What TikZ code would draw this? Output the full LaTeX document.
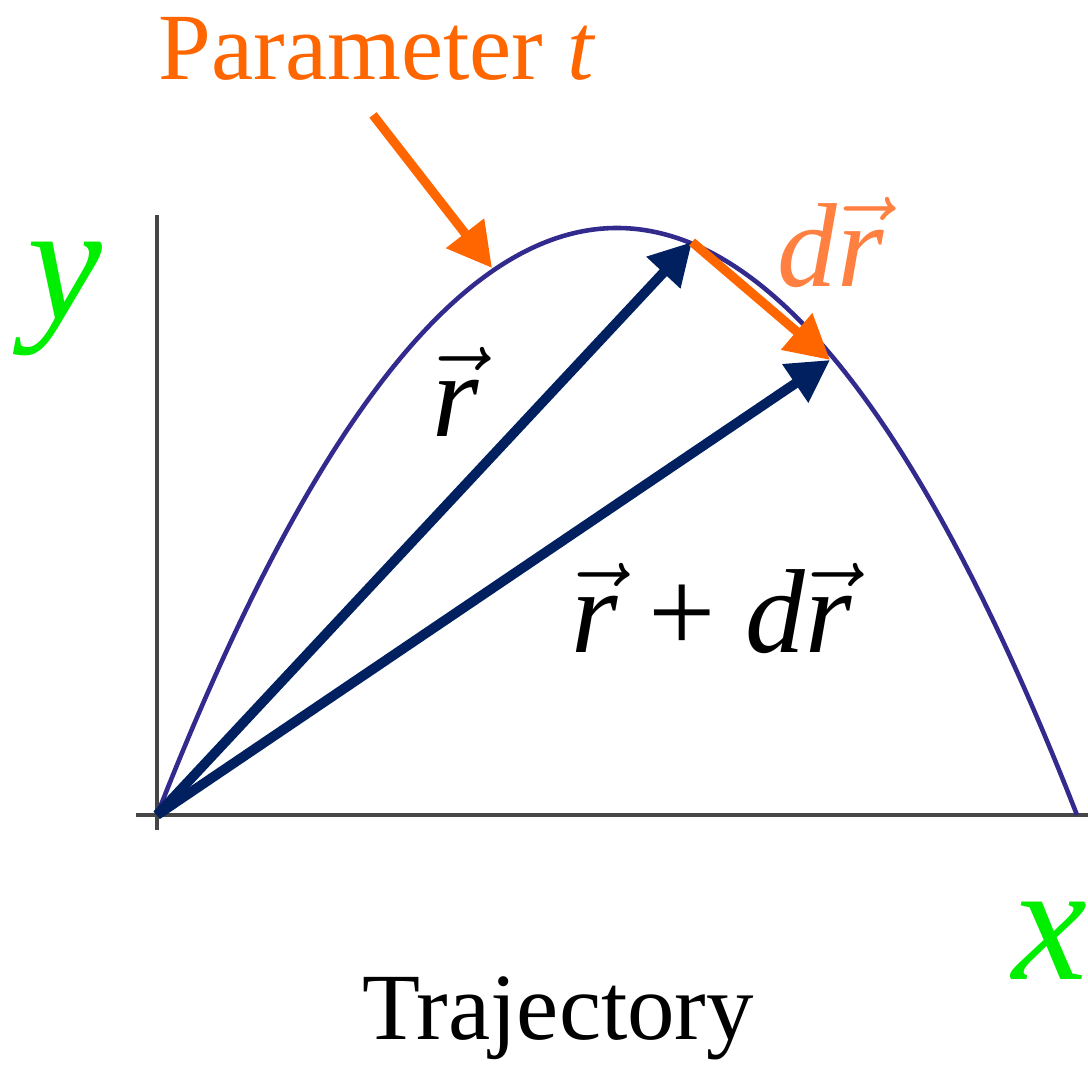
\RequirePackage{fix-cm}
\documentclass[tikz,border=0pt]{standalone}
\usepackage{fontspec}
\setmainfont{Liberation Serif}
\usetikzlibrary{arrows.meta}
\definecolor{trjNavy}{RGB}{0,32,96}
\definecolor{trjOrange}{RGB}{255,102,0}
\definecolor{trjLight}{RGB}{255,128,64}
\definecolor{trjGreen}{RGB}{0,238,0}
\definecolor{trjCurve}{RGB}{50,42,140}
\definecolor{trjAxis}{RGB}{70,70,70}
\tikzset{vecarrow/.style={trjNavy, line width=2.8pt, -{Triangle[length=0.42cm, width=0.44cm]}},
  hintarrow/.style={trjOrange, line width=2.6pt, -{Triangle[length=0.44cm, width=0.46cm]}},
  axislabel/.style={trjGreen, font=\fontsize{48}{54}\selectfont\itshape, anchor=base},
  veclabel/.style={font=\fontsize{34}{40}\selectfont, anchor=base}}
\newcommand{\rvec}{\ensuremath{\vec{\textit{r}}}}

\begin{document}
\begin{tikzpicture}
\useasboundingbox (0,0) rectangle (10.88,10.68);
% axes
\draw[trjAxis, line width=1.1pt] (1.57,2.38) -- (1.57,8.53);
\draw[trjAxis, line width=1.1pt] (1.36,2.53) -- (10.88,2.53);
% trajectory: parabola
\draw[trjCurve, line width=1.3pt, domain=-4.6:4.6, samples=80, smooth]
  plot ({6.17+\x}, {8.40-5.87*(\x/4.6)^2});
% points on the trajectory
\coordinate (O) at (1.57,2.53);
\coordinate (P) at (6.92,8.26);
\coordinate (Q) at (8.30,7.08);
% position vectors
\draw[vecarrow] (O) -- (P);
\draw[vecarrow] (O) -- (Q);
% increment
\draw[hintarrow] (P) -- (Q);
% parameter pointer
\node[trjOrange, font=\fontsize{27}{32}\selectfont, anchor=base] (param) at (3.77,9.88) {Parameter \textit{t}};
\coordinate (tail) at (3.73,9.53);
\coordinate (onCurve) at (4.92,8.00);
\draw[hintarrow] (tail) -- (onCurve);
% vector labels
\node[veclabel] (rlab) at (4.56,6.31) {\rvec};
\node[veclabel] (rdrlab) at (7.12,4.15) {\rvec\ + \textit{d}\rvec};
\node[veclabel, trjLight] (drlab) at (8.31,7.81) {\textit{d}\rvec};
% axis names
\node[axislabel] (ylab) at (0.65,7.48) {y};
\node[axislabel] (xlab) at (10.50,0.88) {x};
% caption
\node[font=\fontsize{27}{32}\selectfont, anchor=base] (caption) at (5.58,0.28) {Trajectory};
\end{tikzpicture}
\end{document}
